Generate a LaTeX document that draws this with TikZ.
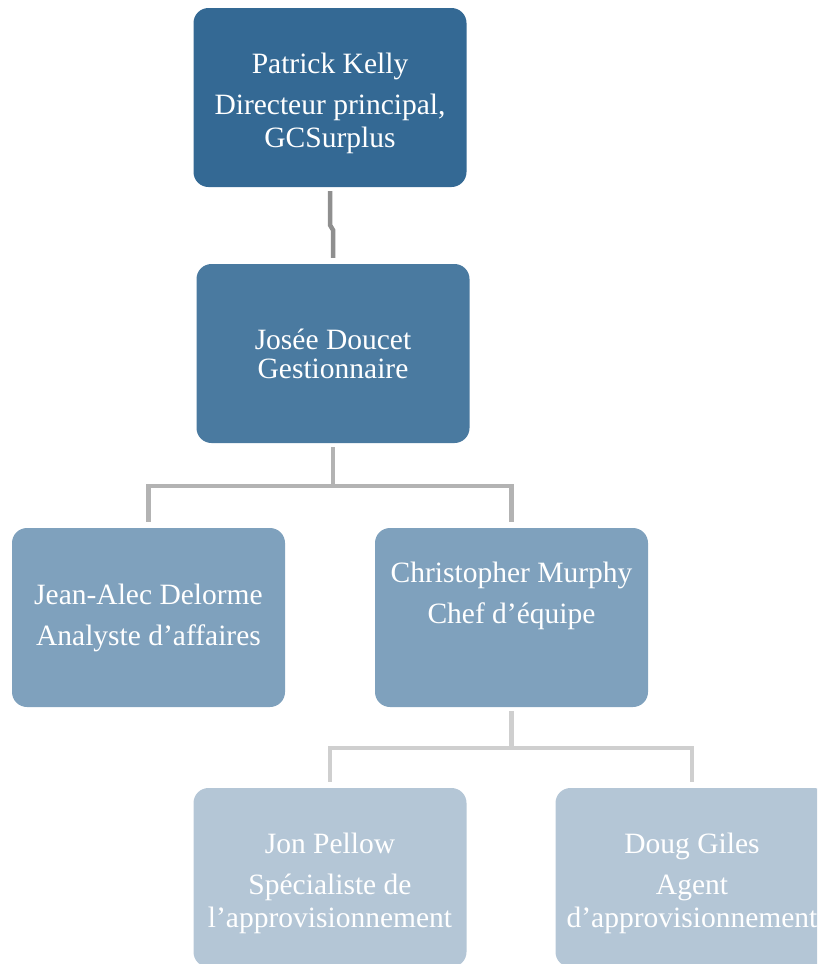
\documentclass[tikz,border=0pt]{standalone}
\usepackage{fontspec}
\setmainfont{Liberation Serif}
\definecolor{lvlA}{HTML}{346994}
\definecolor{lvlB}{HTML}{4A7AA0}
\definecolor{lvlC}{HTML}{7FA1BD}
\definecolor{lvlD}{HTML}{B4C6D6}
\definecolor{conA}{HTML}{8F8F8F}
\definecolor{conB}{HTML}{B3B3B3}
\definecolor{conC}{HTML}{CFCFCF}
\newcommand{\toppad}{\rule{0pt}{33pt}}
\begin{document}
\begin{tikzpicture}[x=1pt,y=-1pt,
    box/.style={rectangle,rounded corners=15pt,minimum width=273pt,minimum height=179pt,
        inner sep=0pt,align=center,text=white,font=\fontsize{29.5}{33}\selectfont},
    link/.style={line width=4.5pt,shorten <=4pt,shorten >=6pt}]
    \clip (0,0) rectangle (817,964);
    %% Boxes
    \node[box,fill=lvlA] (pk) at (330,97.5) {\toppad Patrick Kelly\\[8pt]Directeur principal,\\GCSurplus};
    \node[box,fill=lvlB] (jd) at (333,353.5) {Josée Doucet\\[-4pt]Gestionnaire};
    \node[box,fill=lvlC] (jad) at (148.5,617.5) {Jean-Alec Delorme\\[8pt]Analyste d’affaires};
    \node[box,fill=lvlC] (cm) at (511.5,617.5) {Christopher Murphy\\[8pt]Chef d’équipe\\[6pt]\strut};
    \node[box,fill=lvlD] (jp) at (330,877.5) {\toppad Jon Pellow\\[8pt]Spécialiste de\\l’approvisionnement};
    \node[box,fill=lvlD] (dg) at (692,877.5) {\toppad Doug Giles\\[8pt]Agent\\d’approvisionnement};
    %% Junctions
    \coordinate (pkjog) at (330,225);
    \coordinate (jdbus) at (333,486);
    \coordinate (cmbus) at (511.5,748);
    %% Links
    \draw[link,conA] (pk.south) -- (pkjog) -- ++(3,5) -- (jd.north);
    \draw[link,conB,shorten >=0pt] (jd.south) -- (jdbus);
    \draw[link,conB,shorten <=0pt] (jdbus) -| (jad.north);
    \draw[link,conB,shorten <=0pt] (jdbus) -| (cm.north);
    \draw[link,conC,shorten >=0pt] (cm.south) -- (cmbus);
    \draw[link,conC,shorten <=0pt] (cmbus) -| (jp.north);
    \draw[link,conC,shorten <=0pt] (cmbus) -| (dg.north);
\end{tikzpicture}
\end{document}
